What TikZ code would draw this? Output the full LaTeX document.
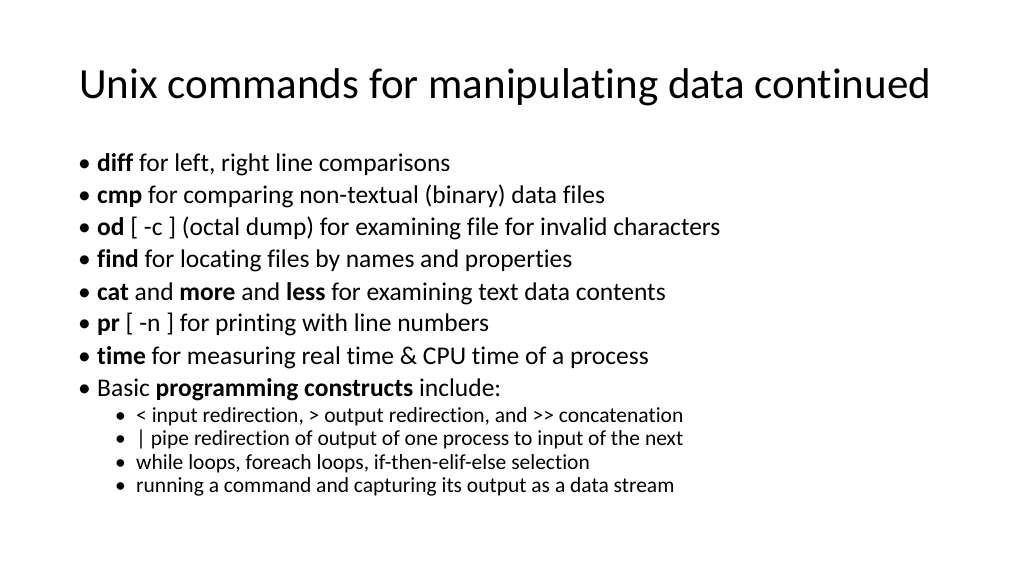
\documentclass[tikz,border=0pt]{standalone}
\usepackage{fontspec}
\setmainfont[Ligatures={NoCommon}]{Carlito}
\usetikzlibrary{positioning}
\begin{document}
\begin{tikzpicture}[x=1pt,y=1pt,
                item/.style={anchor=base west,inner sep=0pt,font=\fontsize{25.5}{25.5}\selectfont},
                subitem/.style={anchor=base west,inner sep=0pt,font=\fontsize{21.5}{21.5}\selectfont}
                ]
                \useasboundingbox (0,0) rectangle (1024,576);
                \node[anchor=base west,inner sep=0pt,font=\fontsize{43}{43}\selectfont] (title) at (79,477) {Unix commands for manipulating data continued};
                % first level
                \foreach \txt [count=\i] in {
                  {\textbf{diff} for left, right line comparisons},
                  {\textbf{cmp} for comparing non-textual (binary) data files},
                  {\textbf{od} [ -c ] (octal dump) for examining file for invalid characters},
                  {\textbf{find} for locating files by names and properties},
                  {\textbf{cat} and \textbf{more} and \textbf{less} for examining text data contents},
                  {\textbf{pr} [ -n ] for printing with line numbers},
                  {\textbf{time} for measuring real time \& CPU time of a process},
                  {Basic \textbf{programming constructs} include:}}
                {
                  \node[item] (b\i) at (78,{404-32*(\i-1)}) {•};
                  \node[item] (t\i) at (97,{404-32*(\i-1)}) {\txt};
                }
                % second level
                \foreach \txt [count=\i] in {
                  {< input redirection, > output redirection, and {>}{>} concatenation},
                  {| pipe redirection of output of one process to input of the next},
                  {while loops, foreach loops, if-then-elif-else selection},
                  {running a command and capturing its output as a data stream}}
                {
                  \node[subitem] (sb\i) at (115,{154-23.5*(\i-1)}) {•};
                  \node[subitem] (st\i) at (136,{154-23.5*(\i-1)}) {\txt};
                }
\end{tikzpicture}
\end{document}
